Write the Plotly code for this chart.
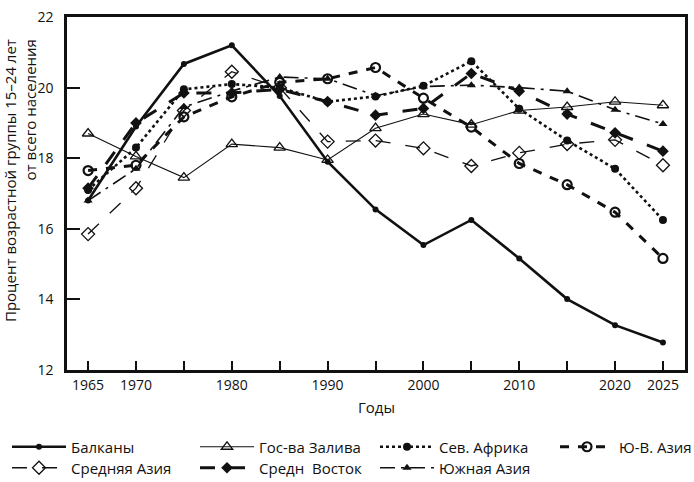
import plotly.graph_objects as go

years = [1965, 1970, 1975, 1980, 1985, 1990, 1995, 2000, 2005, 2010, 2015, 2020, 2025]

balkans      = [16.8, 18.9, 20.67, 21.2, 19.76, 17.9, 16.55, 15.54, 16.25, 15.16, 14.01, 13.27, 12.78]
gulf         = [18.7, 18.05, 17.45, 18.4, 18.3, 17.95, 18.85, 19.25, 18.95, 19.35, 19.45, 19.6, 19.5]
n_africa     = [17.1, 18.3, 19.95, 20.1, 20.0, 19.6, 19.75, 20.05, 20.75, 19.4, 18.5, 17.7, 16.25]
se_asia      = [17.65, 17.8, 19.17, 19.74, 20.15, 20.25, 20.57, 19.7, 18.88, 17.85, 17.25, 16.47, 15.16]
central_asia = [15.85, 17.15, 19.35, 20.45, 20.0, 18.47, 18.5, 18.28, 17.78, 18.15, 18.4, 18.52, 17.8]
mid_east     = [17.15, 19.0, 19.85, 19.85, 19.95, 19.6, 19.22, 19.41, 20.4, 19.9, 19.25, 18.72, 18.2]
south_asia   = [16.8, 17.7, 19.45, 19.9, 20.3, 20.25, 19.77, 20.03, 20.07, 20.0, 19.9, 19.37, 18.97]

names = ["Балканы", "Гос-ва Залива", "Сев. Африка", "Ю-В. Азия",
         "Средняя Азия", "Средн  Восток", "Южная Азия"]

x_tickvals = [1965, 1970, 1975, 1980, 1985, 1990, 1995, 2000, 2005, 2010, 2015, 2020, 2025]
x_ticktext = ["1965", "1970", "", "1980", "", "1990", "", "2000", "", "2010", "", "2020", "2025"]
y_tickvals = [12, 14, 16, 18, 20, 22]
y_title = "Процент возрастной группы 15–24 лет<br>от всего населения"
x_title = "Годы"

FONT = "Open Sans"
BLACK = "#111111"
W, H = 694, 482
ML, MR, MT, MB = 67, 9, 17, 112
PW, PH = W - ML - MR, H - MT - MB

styles = [
    dict(line=dict(color=BLACK, width=2.6, dash="solid"),
         marker=dict(symbol="circle", size=6, color=BLACK)),
    dict(line=dict(color=BLACK, width=1.1, dash="solid"),
         marker=dict(symbol="triangle-up-open", size=10, color=BLACK, line=dict(width=1.3))),
    dict(line=dict(color=BLACK, width=2.6, dash="dot"),
         marker=dict(symbol="circle", size=8, color=BLACK)),
    dict(line=dict(color=BLACK, width=3, dash="dash"),
         marker=dict(symbol="circle-open", size=9, color=BLACK, line=dict(width=2.2))),
    dict(line=dict(color=BLACK, width=1.3, dash="longdash"),
         marker=dict(symbol="diamond-open", size=10, color=BLACK, line=dict(width=1.3))),
    dict(line=dict(color=BLACK, width=3, dash="longdash"),
         marker=dict(symbol="diamond", size=9, color=BLACK)),
    dict(line=dict(color=BLACK, width=1.6, dash="longdashdot"),
         marker=dict(symbol="triangle-up", size=8, color=BLACK)),
]

series = [balkans, gulf, n_africa, se_asia, central_asia, mid_east, south_asia]

# legend slot (pixel) positions: symbol start x, row centre y
leg_pos = [(15, 447), (203, 447), (383, 447), (563, 447),
           (15, 468), (203, 468), (383, 468)]

fig = go.Figure()
legend_layouts = {}
for i, (name, vals, st, (lx, ly)) in enumerate(zip(names, series, styles, leg_pos)):
    lid = "legend" if i == 0 else f"legend{i+1}"
    fig.add_trace(go.Scatter(x=years, y=vals, name=name, mode="lines+markers",
                             line=st["line"], marker=st["marker"], legend=lid))
    legend_layouts[lid] = dict(
        orientation="v", xref="container", yref="container",
        x=(lx - 8) / W, y=1 - ly / H, xanchor="left", yanchor="middle",
        font=dict(family=FONT, size=15, color=BLACK),
        itemwidth=54, bgcolor="rgba(0,0,0,0)", borderwidth=0)

fig.update_layout(
    width=W, height=H,
    margin=dict(l=ML, r=MR, t=MT, b=MB, autoexpand=False),
    paper_bgcolor="white", plot_bgcolor="white",
    font=dict(family=FONT, size=14, color=BLACK),
    showlegend=True,
    xaxis=dict(range=[1962.8, 2027.3], tickmode="array", tickvals=x_tickvals,
               ticktext=x_ticktext, ticks="inside", ticklen=9, tickwidth=2,
               tickcolor=BLACK, showline=True, linecolor=BLACK, linewidth=2.5,
               mirror=True, showgrid=False, zeroline=False, automargin=False,
               tickfont=dict(size=14)),
    yaxis=dict(range=[12, 22], tickmode="array", tickvals=y_tickvals,
               ticks="inside", ticklen=13, tickwidth=2, tickcolor=BLACK,
               showline=True, linecolor=BLACK, linewidth=2.5, mirror=True,
               showgrid=False, zeroline=False, ticklabelstandoff=8, automargin=False,
               tickfont=dict(size=14)),
    annotations=[
        dict(text=y_title, xref="paper", yref="paper",
             x=(20 - ML) / PW, y=(H - MB - 181) / PH,
             xanchor="center", yanchor="middle", textangle=-90, align="right",
             showarrow=False, font=dict(family=FONT, size=15, color=BLACK)),
        dict(text=x_title, xref="paper", yref="paper",
             x=(376 - ML) / PW, y=(H - MB - 407) / PH,
             xanchor="center", yanchor="middle",
             showarrow=False, font=dict(family=FONT, size=15, color=BLACK)),
    ],
    **legend_layouts,
)

fig.write_html("out.html", config={"displayModeBar": False},
               post_script="document.body.style.margin='0';document.body.style.padding='0';")
